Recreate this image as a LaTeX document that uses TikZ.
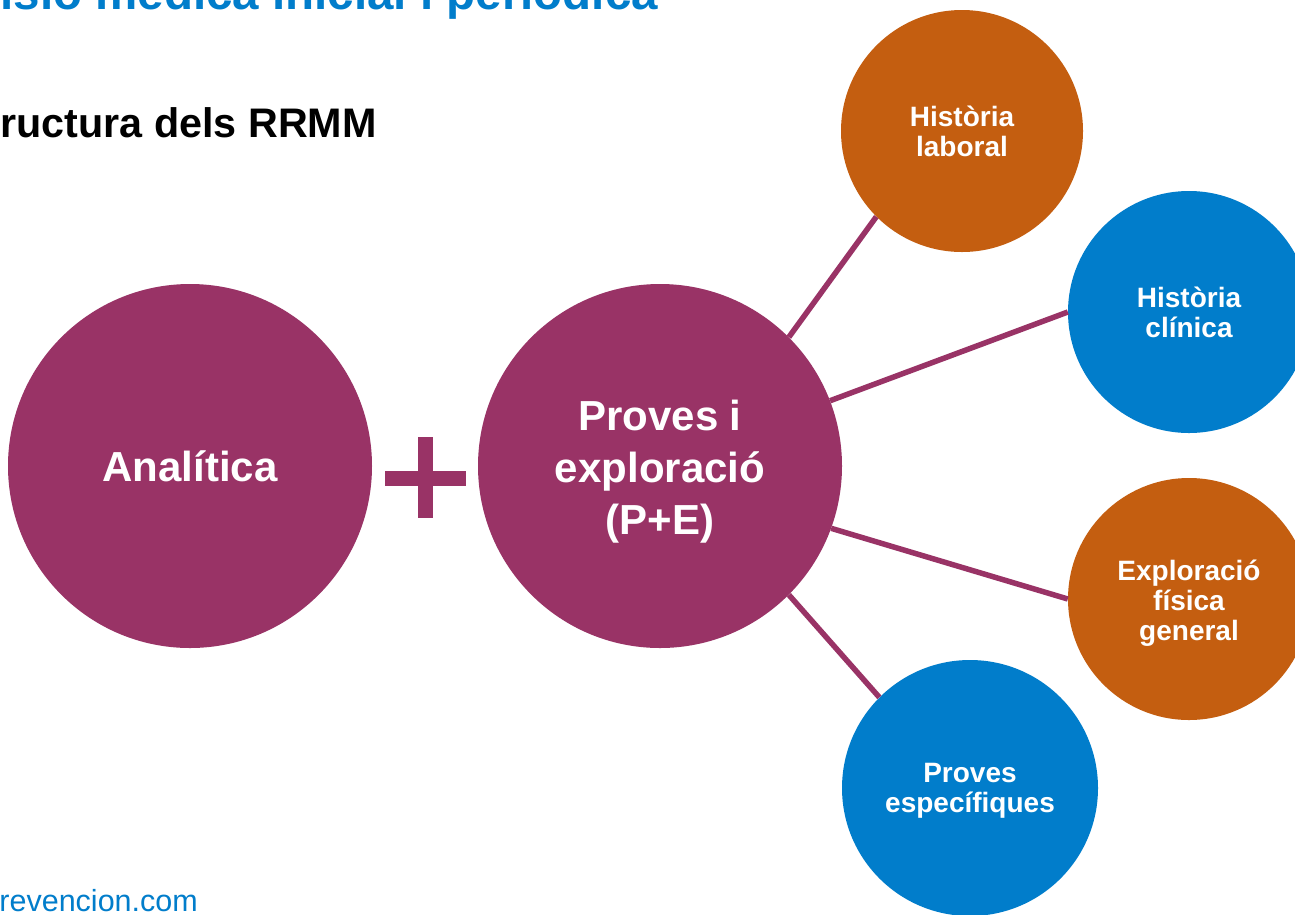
\documentclass[tikz,border=0pt]{standalone}
\usepackage{fontspec}
\setmainfont{Liberation Sans}
\definecolor{plum}{HTML}{993366}
\definecolor{rust}{HTML}{C45E10}
\definecolor{azure}{HTML}{017DCB}
\tikzset{
  bigc/.style={circle, minimum size=364pt, inner sep=0pt, fill=plum, text=white, align=center,
    font=\fontsize{42}{52}\selectfont\bfseries},
  smallc/.style={circle, minimum size=242pt, inner sep=0pt, text=white, align=center,
    font=\fontsize{28}{30}\selectfont\bfseries},
  conn/.style={draw=plum, line width=5.5pt},
  titletext/.style={font=\fontsize{47.5}{56}\selectfont\bfseries, text=azure, inner sep=0pt},
  subtext/.style={font=\fontsize{41.3}{48}\selectfont\bfseries, text=black, inner sep=0pt},
  foottext/.style={font=\fontsize{30.5}{36}\selectfont, text=azure, inner sep=0pt}
}
\begin{document}
\begin{tikzpicture}[x=1pt,y=-1pt]
\useasboundingbox (0,0) rectangle (1295,914);
\fill[white] (0,0) rectangle (1295,914);
\node[titletext, anchor=base east] (title) at (658,9) {isió mèdica inicial i periòdica};
\node[subtext, anchor=base east] (sub) at (377,137) {ructura dels RRMM};
\node[foottext, anchor=base east] (foot) at (198,911) {revencion.com};

\node[bigc] (an) at (190,466) {Analítica};
\node[bigc] (pe) at (660,466) {};
\node[bigc, fill=none, minimum size=0pt] (pet) at (660,472) {Proves i\\exploració\\(P+E)};
\fill[plum] (385,471) rectangle (466,486);
\fill[plum] (418,437) rectangle (433,518);

\node[smallc, fill=rust] (hl) at (962,131) {Història\\laboral};
\node[smallc, fill=azure] (hc) at (1189,312) {Història\\clínica};
\node[smallc, fill=rust] (ef) at (1189,599) {};
\node[smallc, fill=none, minimum size=0pt] (eft) at (1189,603) {Exploració\\física\\general};
\node[smallc, fill=azure, minimum size=256pt] (ps) at (970,788) {};
\node[smallc, fill=none, minimum size=0pt] (pst) at (970,791) {Proves\\específiques};

\draw[conn] (pe.45) -- (hl.225);
\draw[conn] (pe.21) -- (hc.180);
\draw[conn] (pe.-20) -- (ef.180);
\draw[conn] (pe.-45) -- (ps.135);
\end{tikzpicture}
\end{document}
